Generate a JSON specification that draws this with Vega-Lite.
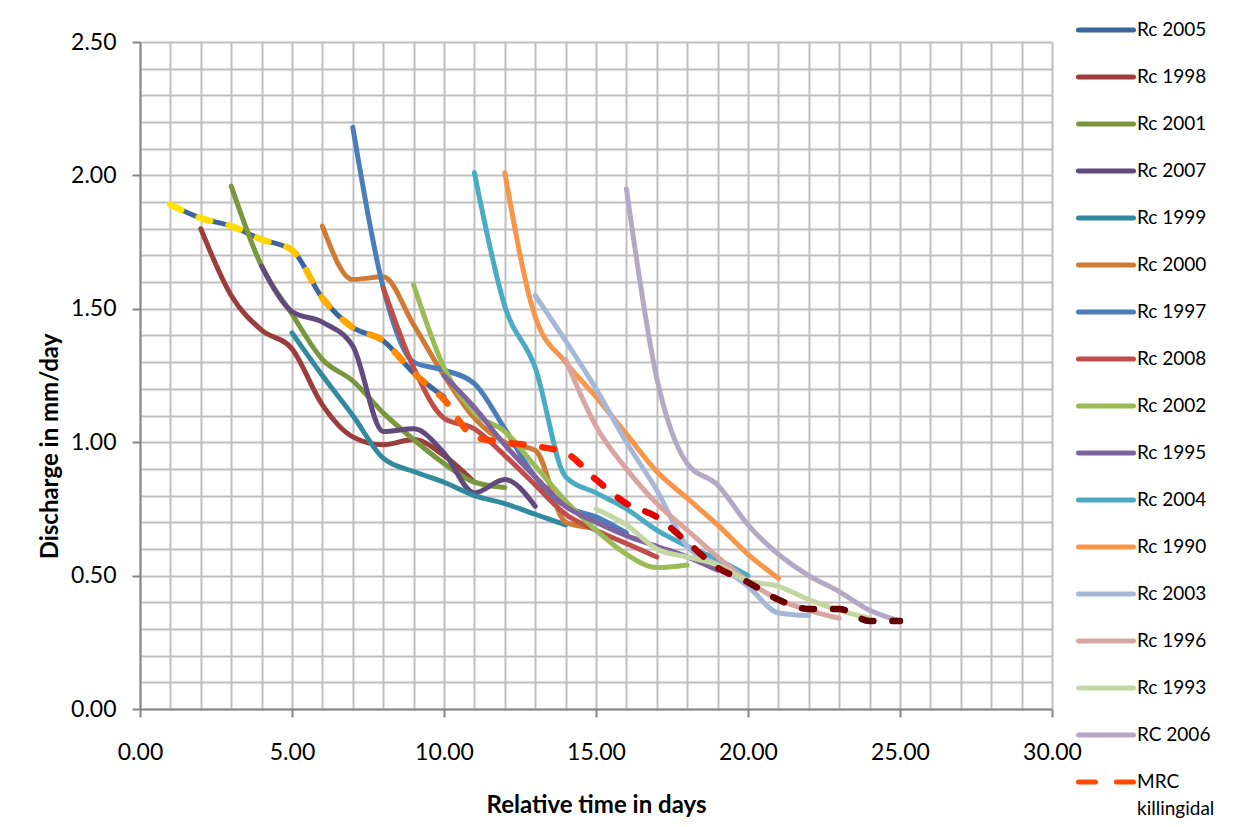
{
  "$schema": "https://vega.github.io/schema/vega-lite/v6.json",
  "width": 912,
  "height": 667,
  "autosize": {"type": "none"},
  "padding": {"left": 140, "top": 42, "right": 185, "bottom": 118},
  "background": "white",
  "config": {
    "view": {"stroke": null},
    "axis": {
      "gridColor": "#bfbfbf",
      "gridWidth": 2,
      "domainColor": "#878787",
      "domainWidth": 2,
      "tickColor": "#878787",
      "tickWidth": 2,
      "tickSize": 8,
      "labelFont": "Lato",
      "labelFontSize": 23,
      "labelColor": "#000000",
      "labelOverlap": false,
      "labelFlush": false,
      "labelBound": false,
      "titleFont": "Lato",
      "titleFontWeight": "bold",
      "titleFontSize": 24,
      "titleColor": "#000000"
    }
  },
  "datasets": {
    "curves": [
      {"s": "Rc 2005", "x": 1, "y": 1.89}, {"s": "Rc 2005", "x": 2, "y": 1.84}, {"s": "Rc 2005", "x": 3, "y": 1.81}, {"s": "Rc 2005", "x": 4, "y": 1.76}, {"s": "Rc 2005", "x": 5, "y": 1.72}, {"s": "Rc 2005", "x": 6, "y": 1.54}, {"s": "Rc 2005", "x": 7, "y": 1.43}, {"s": "Rc 2005", "x": 8, "y": 1.38}, {"s": "Rc 2005", "x": 9, "y": 1.26}, {"s": "Rc 2005", "x": 10, "y": 1.17},
      {"s": "Rc 1998", "x": 2, "y": 1.80}, {"s": "Rc 1998", "x": 3, "y": 1.55}, {"s": "Rc 1998", "x": 4, "y": 1.42}, {"s": "Rc 1998", "x": 5, "y": 1.35}, {"s": "Rc 1998", "x": 6, "y": 1.14}, {"s": "Rc 1998", "x": 7, "y": 1.02}, {"s": "Rc 1998", "x": 8, "y": 0.99}, {"s": "Rc 1998", "x": 9, "y": 1.01}, {"s": "Rc 1998", "x": 10, "y": 0.95}, {"s": "Rc 1998", "x": 11, "y": 0.85},
      {"s": "Rc 2001", "x": 3, "y": 1.96}, {"s": "Rc 2001", "x": 4, "y": 1.66}, {"s": "Rc 2001", "x": 5, "y": 1.48}, {"s": "Rc 2001", "x": 6, "y": 1.31}, {"s": "Rc 2001", "x": 7, "y": 1.23}, {"s": "Rc 2001", "x": 8, "y": 1.11}, {"s": "Rc 2001", "x": 9, "y": 1.01}, {"s": "Rc 2001", "x": 10, "y": 0.92}, {"s": "Rc 2001", "x": 11, "y": 0.85}, {"s": "Rc 2001", "x": 12, "y": 0.83},
      {"s": "Rc 2007", "x": 4, "y": 1.66}, {"s": "Rc 2007", "x": 5, "y": 1.49}, {"s": "Rc 2007", "x": 6, "y": 1.45}, {"s": "Rc 2007", "x": 7, "y": 1.36}, {"s": "Rc 2007", "x": 8, "y": 1.04}, {"s": "Rc 2007", "x": 9, "y": 1.05}, {"s": "Rc 2007", "x": 10, "y": 0.96}, {"s": "Rc 2007", "x": 11, "y": 0.81}, {"s": "Rc 2007", "x": 12, "y": 0.86}, {"s": "Rc 2007", "x": 13, "y": 0.76},
      {"s": "Rc 1999", "x": 5, "y": 1.41}, {"s": "Rc 1999", "x": 6, "y": 1.25}, {"s": "Rc 1999", "x": 7, "y": 1.10}, {"s": "Rc 1999", "x": 8, "y": 0.94}, {"s": "Rc 1999", "x": 9, "y": 0.89}, {"s": "Rc 1999", "x": 10, "y": 0.85}, {"s": "Rc 1999", "x": 11, "y": 0.80}, {"s": "Rc 1999", "x": 12, "y": 0.77}, {"s": "Rc 1999", "x": 13, "y": 0.73}, {"s": "Rc 1999", "x": 14, "y": 0.69},
      {"s": "Rc 2000", "x": 6, "y": 1.81}, {"s": "Rc 2000", "x": 7, "y": 1.61}, {"s": "Rc 2000", "x": 8, "y": 1.62}, {"s": "Rc 2000", "x": 9, "y": 1.44}, {"s": "Rc 2000", "x": 10, "y": 1.25}, {"s": "Rc 2000", "x": 11, "y": 1.09}, {"s": "Rc 2000", "x": 12, "y": 1.00}, {"s": "Rc 2000", "x": 13, "y": 0.97}, {"s": "Rc 2000", "x": 14, "y": 0.70}, {"s": "Rc 2000", "x": 14.8, "y": 0.68},
      {"s": "Rc 1997", "x": 7, "y": 2.18}, {"s": "Rc 1997", "x": 8, "y": 1.58}, {"s": "Rc 1997", "x": 9, "y": 1.30}, {"s": "Rc 1997", "x": 10, "y": 1.27}, {"s": "Rc 1997", "x": 11, "y": 1.22}, {"s": "Rc 1997", "x": 12, "y": 1.05}, {"s": "Rc 1997", "x": 13, "y": 0.87}, {"s": "Rc 1997", "x": 14, "y": 0.76}, {"s": "Rc 1997", "x": 15, "y": 0.72}, {"s": "Rc 1997", "x": 16, "y": 0.66},
      {"s": "Rc 2008", "x": 8, "y": 1.58}, {"s": "Rc 2008", "x": 9, "y": 1.28}, {"s": "Rc 2008", "x": 10, "y": 1.09}, {"s": "Rc 2008", "x": 11, "y": 1.05}, {"s": "Rc 2008", "x": 12, "y": 0.95}, {"s": "Rc 2008", "x": 13, "y": 0.84}, {"s": "Rc 2008", "x": 14, "y": 0.73}, {"s": "Rc 2008", "x": 15, "y": 0.67}, {"s": "Rc 2008", "x": 16, "y": 0.62}, {"s": "Rc 2008", "x": 17, "y": 0.57},
      {"s": "Rc 2002", "x": 9, "y": 1.59}, {"s": "Rc 2002", "x": 10, "y": 1.28}, {"s": "Rc 2002", "x": 11, "y": 1.11}, {"s": "Rc 2002", "x": 12, "y": 1.04}, {"s": "Rc 2002", "x": 13, "y": 0.91}, {"s": "Rc 2002", "x": 14, "y": 0.78}, {"s": "Rc 2002", "x": 15, "y": 0.67}, {"s": "Rc 2002", "x": 16, "y": 0.58}, {"s": "Rc 2002", "x": 17, "y": 0.53}, {"s": "Rc 2002", "x": 18, "y": 0.54},
      {"s": "Rc 1995", "x": 10, "y": 1.25}, {"s": "Rc 1995", "x": 11, "y": 1.13}, {"s": "Rc 1995", "x": 12, "y": 0.99}, {"s": "Rc 1995", "x": 13, "y": 0.87}, {"s": "Rc 1995", "x": 14, "y": 0.76}, {"s": "Rc 1995", "x": 15, "y": 0.70}, {"s": "Rc 1995", "x": 16, "y": 0.65}, {"s": "Rc 1995", "x": 17, "y": 0.61}, {"s": "Rc 1995", "x": 18, "y": 0.57}, {"s": "Rc 1995", "x": 19, "y": 0.52},
      {"s": "Rc 2004", "x": 11, "y": 2.01}, {"s": "Rc 2004", "x": 12, "y": 1.51}, {"s": "Rc 2004", "x": 13, "y": 1.28}, {"s": "Rc 2004", "x": 14, "y": 0.87}, {"s": "Rc 2004", "x": 15, "y": 0.81}, {"s": "Rc 2004", "x": 16, "y": 0.75}, {"s": "Rc 2004", "x": 17, "y": 0.67}, {"s": "Rc 2004", "x": 18, "y": 0.61}, {"s": "Rc 2004", "x": 19, "y": 0.56}, {"s": "Rc 2004", "x": 20, "y": 0.50},
      {"s": "Rc 1990", "x": 12, "y": 2.01}, {"s": "Rc 1990", "x": 13, "y": 1.47}, {"s": "Rc 1990", "x": 14, "y": 1.30}, {"s": "Rc 1990", "x": 15, "y": 1.17}, {"s": "Rc 1990", "x": 16, "y": 1.03}, {"s": "Rc 1990", "x": 17, "y": 0.89}, {"s": "Rc 1990", "x": 18, "y": 0.79}, {"s": "Rc 1990", "x": 19, "y": 0.69}, {"s": "Rc 1990", "x": 20, "y": 0.58}, {"s": "Rc 1990", "x": 21, "y": 0.49},
      {"s": "Rc 2003", "x": 13, "y": 1.55}, {"s": "Rc 2003", "x": 14, "y": 1.38}, {"s": "Rc 2003", "x": 15, "y": 1.20}, {"s": "Rc 2003", "x": 16, "y": 1.00}, {"s": "Rc 2003", "x": 17, "y": 0.82}, {"s": "Rc 2003", "x": 18, "y": 0.61}, {"s": "Rc 2003", "x": 19, "y": 0.54}, {"s": "Rc 2003", "x": 20, "y": 0.46}, {"s": "Rc 2003", "x": 21, "y": 0.36}, {"s": "Rc 2003", "x": 22, "y": 0.35},
      {"s": "Rc 1996", "x": 14, "y": 1.31}, {"s": "Rc 1996", "x": 15, "y": 1.06}, {"s": "Rc 1996", "x": 16, "y": 0.90}, {"s": "Rc 1996", "x": 17, "y": 0.77}, {"s": "Rc 1996", "x": 18, "y": 0.67}, {"s": "Rc 1996", "x": 19, "y": 0.57}, {"s": "Rc 1996", "x": 20, "y": 0.48}, {"s": "Rc 1996", "x": 21, "y": 0.41}, {"s": "Rc 1996", "x": 22, "y": 0.37}, {"s": "Rc 1996", "x": 23, "y": 0.34},
      {"s": "Rc 1993", "x": 15, "y": 0.75}, {"s": "Rc 1993", "x": 16, "y": 0.69}, {"s": "Rc 1993", "x": 17, "y": 0.60}, {"s": "Rc 1993", "x": 18, "y": 0.57}, {"s": "Rc 1993", "x": 19, "y": 0.54}, {"s": "Rc 1993", "x": 20, "y": 0.48}, {"s": "Rc 1993", "x": 21, "y": 0.46}, {"s": "Rc 1993", "x": 22, "y": 0.41}, {"s": "Rc 1993", "x": 23, "y": 0.37}, {"s": "Rc 1993", "x": 24, "y": 0.34},
      {"s": "RC 2006", "x": 16, "y": 1.95}, {"s": "RC 2006", "x": 17, "y": 1.24}, {"s": "RC 2006", "x": 18, "y": 0.92}, {"s": "RC 2006", "x": 19, "y": 0.84}, {"s": "RC 2006", "x": 20, "y": 0.69}, {"s": "RC 2006", "x": 21, "y": 0.58}, {"s": "RC 2006", "x": 22, "y": 0.50}, {"s": "RC 2006", "x": 23, "y": 0.44}, {"s": "RC 2006", "x": 24, "y": 0.37}, {"s": "RC 2006", "x": 25, "y": 0.33}
    ],
    "mrc": [
      {"s": "MRC killingidal", "x": 1, "y": 1.89}, {"s": "MRC killingidal", "x": 2, "y": 1.84}, {"s": "MRC killingidal", "x": 3, "y": 1.81}, {"s": "MRC killingidal", "x": 4, "y": 1.76}, {"s": "MRC killingidal", "x": 5, "y": 1.72},
      {"s": "MRC killingidal", "x": 6, "y": 1.54}, {"s": "MRC killingidal", "x": 7, "y": 1.43}, {"s": "MRC killingidal", "x": 8, "y": 1.38}, {"s": "MRC killingidal", "x": 9, "y": 1.26}, {"s": "MRC killingidal", "x": 10, "y": 1.16},
      {"s": "MRC killingidal", "x": 11, "y": 1.02}, {"s": "MRC killingidal", "x": 12, "y": 1.00}, {"s": "MRC killingidal", "x": 13, "y": 0.985}, {"s": "MRC killingidal", "x": 14, "y": 0.96}, {"s": "MRC killingidal", "x": 15, "y": 0.86},
      {"s": "MRC killingidal", "x": 16, "y": 0.77}, {"s": "MRC killingidal", "x": 17, "y": 0.72}, {"s": "MRC killingidal", "x": 18, "y": 0.625}, {"s": "MRC killingidal", "x": 19, "y": 0.53}, {"s": "MRC killingidal", "x": 20, "y": 0.475},
      {"s": "MRC killingidal", "x": 21, "y": 0.41}, {"s": "MRC killingidal", "x": 22, "y": 0.375}, {"s": "MRC killingidal", "x": 23, "y": 0.375}, {"s": "MRC killingidal", "x": 24, "y": 0.33}, {"s": "MRC killingidal", "x": 25, "y": 0.33}
    ]
  },
  "encoding": {
    "x": {
      "field": "x", "type": "quantitative",
      "scale": {"domain": [0, 30], "nice": false, "zero": false},
      "axis": {
        "title": "Relative time in days",
        "values": [0,1,2,3,4,5,6,7,8,9,10,11,12,13,14,15,16,17,18,19,20,21,22,23,24,25,26,27,28,29,30],
        "labelExpr": "datum.value % 5 == 0 ? format(datum.value, '.2f') : ''",
        "tickOpacity": {"condition": {"test": "datum.value % 5 == 0", "value": 1}, "value": 0},
        "labelPadding": 24,
        "labelBaseline": "top",
        "titleY": 96,
        "titleBaseline": "middle"
      }
    },
    "y": {
      "field": "y", "type": "quantitative",
      "scale": {"domain": [0, 2.5], "nice": false, "zero": false},
      "axis": {
        "title": "Discharge in mm/day",
        "values": [0,0.1,0.2,0.3,0.4,0.5,0.6,0.7,0.8,0.9,1,1.1,1.2,1.3,1.4,1.5,1.6,1.7,1.8,1.9,2,2.1,2.2,2.3,2.4,2.5],
        "labelExpr": "round(datum.value * 10) % 5 == 0 ? format(datum.value, '.2f') : ''",
        "tickOpacity": {"condition": {"test": "round(datum.value * 10) % 5 == 0", "value": 1}, "value": 0},
        "labelPadding": 16,
        "titleX": -90,
        "titleY": 404,
        "titleAngle": 270,
        "titleBaseline": "middle",
        "titleAlign": "center"
      }
    }
  },
  "layer": [
    {
      "data": {"name": "curves"},
      "mark": {"type": "line", "interpolate": "monotone", "strokeWidth": 5, "strokeCap": "round", "strokeJoin": "round"},
      "encoding": {
        "color": {
          "field": "s", "type": "nominal",
          "scale": {
            "domain": ["Rc 2005","Rc 1998","Rc 2001","Rc 2007","Rc 1999","Rc 2000","Rc 1997","Rc 2008","Rc 2002","Rc 1995","Rc 2004","Rc 1990","Rc 2003","Rc 1996","Rc 1993","RC 2006","MRC killingidal"],
            "range": ["#3B659B","#9B3D3B","#7A973F","#624A7E","#318A9E","#D07A33","#4A7DBA","#C04D4A","#9ABB56","#7F63A1","#4BABC5","#F79548","#A6B8D8","#D9A5A3","#C4D7A3","#B4A8C7","#FF4A00"]
          },
          "legend": {
            "title": null,
            "orient": "none",
            "legendX": 936,
            "legendY": -42,
            "padding": 0,
            "symbolType": "stroke",
            "symbolSize": 3025,
            "symbolStrokeWidth": 5,
            "labelFont": "Lato",
            "labelFontSize": 19,
            "labelColor": "#000000",
            "labelOffset": 1,
            "labelLimit": 200,
            "rowPadding": 7.0,
            "labelExpr": "datum.label == 'MRC killingidal' ? ['MRC', 'killingidal'] : datum.label",
            "encode": {
              "symbols": {"update": {"strokeDash": {"signal": "datum.value == 'MRC killingidal' ? [17, 21] : [1, 0]"}, "strokeCap": {"value": "round"}}},
              "labels": {"update": {"lineHeight": {"value": 27}}}
            }
          }
        }
      }
    },
    {
      "data": {"name": "mrc"},
      "mark": {
        "type": "line", "interpolate": "monotone", "strokeWidth": 6.5, "strokeCap": "round",
        "strokeDash": [12, 19],
        "color": {
          "gradient": "linear", "x1": 0, "x2": 1, "y1": 0, "y2": 0,
          "stops": [
            {"offset": 0, "color": "#FFE600"},
            {"offset": 0.14, "color": "#FFD600"},
            {"offset": 0.2, "color": "#FFB400"},
            {"offset": 0.3, "color": "#FF9400"},
            {"offset": 0.37, "color": "#FF6A00"},
            {"offset": 0.42, "color": "#FF4400"},
            {"offset": 0.55, "color": "#FF1E00"},
            {"offset": 0.62, "color": "#F00000"},
            {"offset": 0.68, "color": "#D00000"},
            {"offset": 0.72, "color": "#A80000"},
            {"offset": 0.8, "color": "#6A0000"},
            {"offset": 1, "color": "#600000"}
          ]
        }
      },
      "encoding": {}
    }
  ]
}
